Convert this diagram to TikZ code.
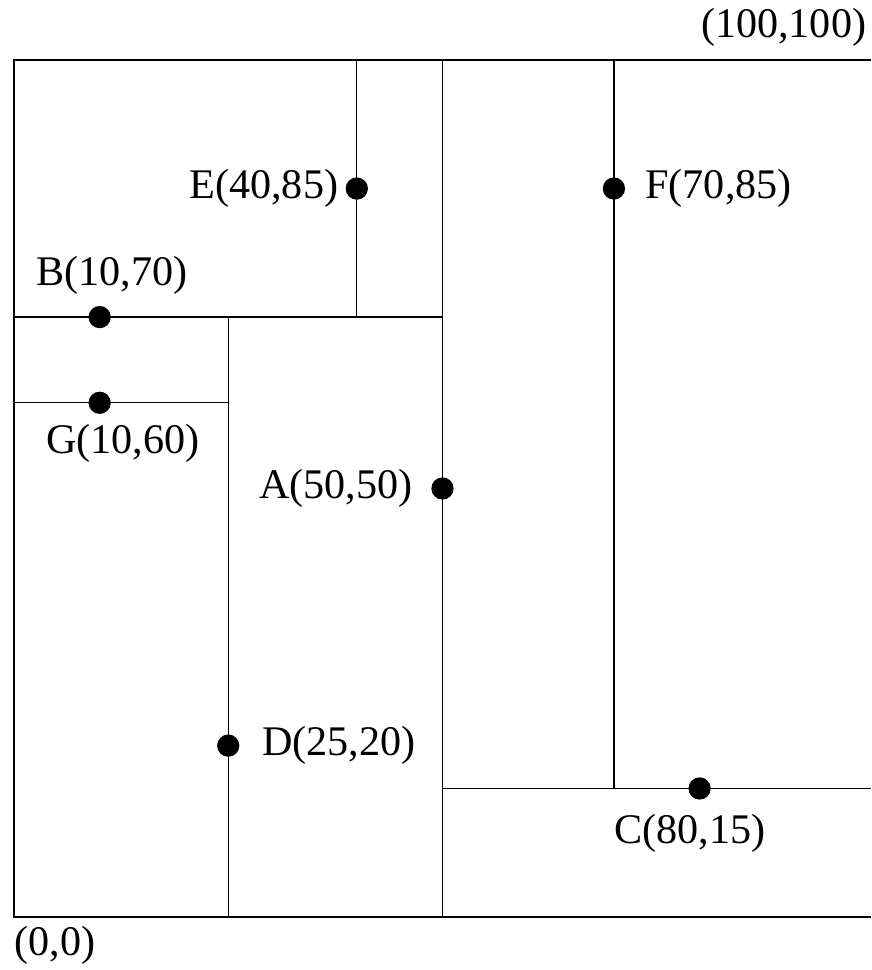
\documentclass[tikz,border=0pt]{standalone}
\usepackage{fontspec}
\setmainfont{Liberation Serif}
\begin{document}
\begin{tikzpicture}[x=0.1cm,y=0.1cm,
  every node/.style={font=\fontsize{14}{17}\selectfont, inner sep=0pt},
  split/.style={draw=black, line width=0.45pt},
  pt/.style={circle, fill=black, minimum size=2.6mm, inner sep=0pt}]
\useasboundingbox (-1.63,-6.18) rectangle (100,107.0);
% outer region (its right side falls on the page edge)
\draw[split] (100,0) -- (0,0) -- (0,100) -- (100,100);
% splitting lines
\draw[split] (50,0) -- (50,100);
\draw[split] (0,70) -- (50,70);
\draw[split] (40,70) -- (40,100);
\draw[split] (0,60) -- (25,60);
\draw[split] (25,0) -- (25,70);
\draw[split] (50,15) -- (100,15);
\draw[split] (70,15) -- (70,100);
% points
\node[pt] (A) at (50,50) {};
\node[pt] (B) at (10,70) {};
\node[pt] (C) at (80,15) {};
\node[pt] (D) at (25,20) {};
\node[pt] (E) at (40,85) {};
\node[pt] (F) at (70,85) {};
\node[pt] (G) at (10,60) {};
% labels
\node[anchor=east] (lA) at (46.6,50) {A(50,50)};
\node (lB) at (11.4,74.9) {B(10,70)};
\node (lC) at (78.9,9.8) {C(80,15)};
\node[anchor=west] (lD) at (28.9,20) {D(25,20)};
\node[anchor=east] (lE) at (37.9,85) {E(40,85)};
\node[anchor=west] (lF) at (73.6,85) {F(70,85)};
\node (lG) at (12.7,55.3) {G(10,60)};
\node[anchor=east] (top) at (99.5,103.8) {(100,100)};
\node[anchor=west] (orig) at (0,-3.3) {(0,0)};
\end{tikzpicture}
\end{document}
